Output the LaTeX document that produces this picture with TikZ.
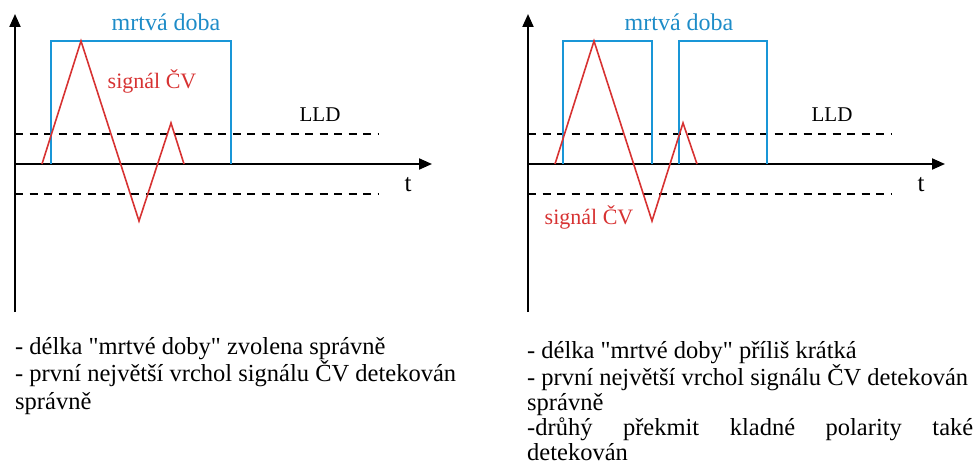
\documentclass[tikz,border=0pt]{standalone}
\usepackage{fontspec}
\setmainfont{Liberation Serif}
\newfontfamily\tserif{Liberation Serif}
\usetikzlibrary{arrows.meta}
\definecolor{dtblue}{RGB}{25,150,215}
\definecolor{dtblue2}{RGB}{30,140,200}
\definecolor{sigred}{RGB}{215,50,50}
\tikzset{
  axis/.style={line width=2pt,-{Triangle[length=13pt,width=11pt]}},
  deadbox/.style={dtblue,line width=1.6pt},
  sig/.style={sigred,line width=1.6pt,line join=miter},
  thr/.style={line width=1.6pt,dash pattern=on 8pt off 6.5pt},
  lbl/.style={inner sep=0pt,font=\tserif\fontsize{21}{24}\selectfont},
  mdlbl/.style={lbl,text=dtblue2,font=\tserif\fontsize{24}{26}\selectfont},
  siglbl/.style={lbl,text=sigred,font=\tserif\fontsize{22}{26}\selectfont},
  tlbl/.style={lbl,font=\tserif\fontsize{25}{28}\selectfont},
  desc/.style={inner sep=0pt,anchor=north west,align=left,font=\tserif\fontsize{24.5}{27.5}\selectfont},
}
\begin{document}
\begin{tikzpicture}[x=1pt,y=-1pt]
\useasboundingbox (0,0) rectangle (976,465);
% ---------- left panel ----------
\coordinate (Ly0) at (15,312);
\coordinate (Ly1) at (15,14);
\coordinate (Lx0) at (15,164);
\coordinate (Lx1) at (432,164);
\draw[axis] (Ly0) -- (Ly1);
\draw[axis] (Lx0) -- (Lx1);
\coordinate (Ld1a) at (15,134); \coordinate (Ld1b) at (379,134);
\coordinate (Ld2a) at (15,194); \coordinate (Ld2b) at (379,194);
\draw[thr] (Ld1a) -- (Ld1b);
\draw[thr] (Ld2a) -- (Ld2b);
\coordinate (Lb0) at (51,164); \coordinate (Lb1) at (51,41);
\coordinate (Lb2) at (231,41); \coordinate (Lb3) at (231,164);
\draw[deadbox] (Lb0) -- (Lb1) -- (Lb2) -- (Lb3);
\coordinate (Ls0) at (42,164); \coordinate (Ls1) at (81,41);
\coordinate (Ls2) at (139,221); \coordinate (Ls3) at (171,123);
\coordinate (Ls4) at (184,164);
\draw[sig] (Ls0) -- (Ls1) -- (Ls2) -- (Ls3) -- (Ls4);
\node[mdlbl] (Lmd) at (166,22) {mrtvá doba};
\node[siglbl] (Lsig) at (152,81) {signál ČV};
\node[lbl] (Llld) at (320,115) {LLD};
\node[tlbl] (Lt) at (408,185) {t};
\node[desc] (Ltext) at (15,337) {- délka "mrtvé doby" zvolena správně\\- první největší vrchol signálu ČV detekován\\správně};
% ---------- right panel ----------
\coordinate (Ry0) at (528,312);
\coordinate (Ry1) at (528,14);
\coordinate (Rx0) at (528,164);
\coordinate (Rx1) at (945,164);
\draw[axis] (Ry0) -- (Ry1);
\draw[axis] (Rx0) -- (Rx1);
\coordinate (Rd1a) at (528,134); \coordinate (Rd1b) at (891,134);
\coordinate (Rd2a) at (528,194); \coordinate (Rd2b) at (891,194);
\draw[thr] (Rd1a) -- (Rd1b);
\draw[thr] (Rd2a) -- (Rd2b);
\coordinate (Rb0) at (563,164); \coordinate (Rb1) at (563,41);
\coordinate (Rb2) at (652,41); \coordinate (Rb3) at (652,164);
\draw[deadbox] (Rb0) -- (Rb1) -- (Rb2) -- (Rb3);
\coordinate (Rc0) at (679,164); \coordinate (Rc1) at (679,41);
\coordinate (Rc2) at (767,41); \coordinate (Rc3) at (767,164);
\draw[deadbox] (Rc0) -- (Rc1) -- (Rc2) -- (Rc3);
\coordinate (Rs0) at (555,164); \coordinate (Rs1) at (594,41);
\coordinate (Rs2) at (652,221); \coordinate (Rs3) at (683,123);
\coordinate (Rs4) at (697,164);
\draw[sig] (Rs0) -- (Rs1) -- (Rs2) -- (Rs3) -- (Rs4);
\node[mdlbl] (Rmd) at (679,22) {mrtvá doba};
\node[siglbl] (Rsig) at (589,217) {signál ČV};
\node[lbl] (Rlld) at (832,115) {LLD};
\node[tlbl] (Rt) at (921,185) {t};
\node[desc,font=\tserif\fontsize{24.5}{25}\selectfont] (Rtext) at (527,341) {- délka "mrtvé doby" příliš krátká\\- první největší vrchol signálu ČV detekován\\správně\\\makebox[446pt][s]{-drůhý překmit kladné polarity také}\\detekován};
\end{tikzpicture}
\end{document}
